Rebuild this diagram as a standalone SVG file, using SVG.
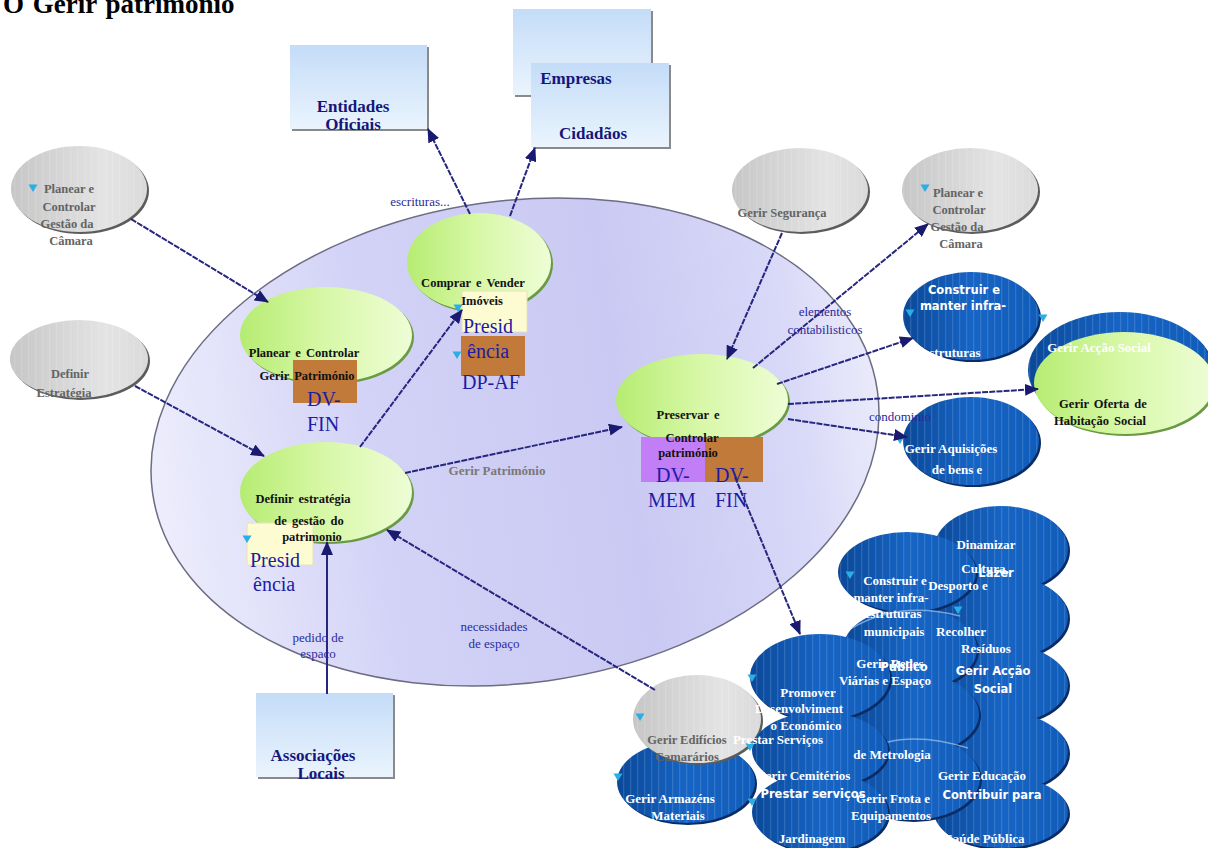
<svg xmlns="http://www.w3.org/2000/svg" xmlns:xlink="http://www.w3.org/1999/xlink" width="1208" height="848" viewBox="0 0 1208 848">
<style>
  .ser { font-family: "Liberation Serif", "Times New Roman", serif; }
  .t-gray { font: bold 12.5px "Liberation Serif", serif; fill: #646464; text-anchor: middle; }
  .t-green { font: bold 12.5px "Liberation Serif", serif; fill: #111; text-anchor: middle; word-spacing: 2px; }
  .t-blue { font: bold 13px "Liberation Serif", serif; fill: #fff; text-anchor: middle; }
  .t-bsans { font: bold 11.5px "DejaVu Sans", "Liberation Sans", sans-serif; fill: #fff; text-anchor: middle; }
  .t-ent { font: bold 17px "Liberation Serif", serif; fill: #16167a; text-anchor: middle; }
  .t-role { font: 20px "Liberation Serif", serif; fill: #1c1ca6; }
  .t-lbl { font: 13px "Liberation Serif", serif; fill: #2a2a9c; text-anchor: middle; }
  .sh-gray { fill: #5c5c5c; }
  .sh-green { fill: #6a9a44; }
  .sh-blue { fill: #0a2c66; }
  .f-gray { fill: url(#gGray); }
  .f-green { fill: url(#gGreen); }
  .f-blue { fill: url(#gBlue); }
  .stripe { fill: url(#stripes); }
  .ent { fill: url(#gEnt); }
  .ent-sh { fill: #8a8a8a; }
  .brown { fill: #c27a3a; }
  .cream { fill: #fdfbd2; stroke: #e6e2b8; stroke-width: 1; }
  .purple { fill: #c17ef6; }
  .cn { fill: none; stroke: #26267e; stroke-width: 2; stroke-dasharray: 6 1.2; marker-end: url(#arr); }
  .cn-solid { fill: none; stroke: #26267e; stroke-width: 2; marker-end: url(#arr); }
</style>
<defs>
  <linearGradient id="lav" gradientUnits="userSpaceOnUse" x1="150" y1="0" x2="880" y2="0">
    <stop offset="0" stop-color="#ededfc"/>
    <stop offset="0.3" stop-color="#d3d3f7"/>
    <stop offset="0.65" stop-color="#c9c9f3"/>
    <stop offset="0.88" stop-color="#d8d8f8"/>
    <stop offset="1" stop-color="#eaeafb"/>
  </linearGradient>
  <linearGradient id="gGray" x1="0" y1="0" x2="1" y2="0">
    <stop offset="0" stop-color="#c6c6c6"/>
    <stop offset="0.7" stop-color="#e4e4e4"/>
    <stop offset="1" stop-color="#dadada"/>
  </linearGradient>
  <linearGradient id="gGreen" x1="0" y1="0" x2="1" y2="0">
    <stop offset="0" stop-color="#b6ec72"/>
    <stop offset="0.5" stop-color="#d8f8a8"/>
    <stop offset="1" stop-color="#eefdd6"/>
  </linearGradient>
  <linearGradient id="gBlue" x1="0" y1="0" x2="1" y2="0">
    <stop offset="0" stop-color="#0a4898"/>
    <stop offset="0.5" stop-color="#1664c4"/>
    <stop offset="1" stop-color="#105cba"/>
  </linearGradient>
  <linearGradient id="gEnt" x1="0" y1="0" x2="0" y2="1">
    <stop offset="0" stop-color="#c4dcf8"/>
    <stop offset="1" stop-color="#eaf4fd"/>
  </linearGradient>
  <pattern id="stripes" width="7" height="7" patternUnits="userSpaceOnUse">
    <rect x="0" y="0" width="1.3" height="7" fill="#ffffff" opacity="0.13"/>
  </pattern>
  <marker id="arr" viewBox="0 0 14 12" refX="13" refY="6" markerWidth="14" markerHeight="12" markerUnits="userSpaceOnUse" orient="auto">
    <path d="M0,0 L14,6 L0,12 Z" fill="#1a1a70"/>
  </marker>
  <path id="tri" d="M-4.5,-3.5 L4.5,-3.5 L0,4 Z" fill="#2aaee6"/>
  <clipPath id="clipAq"><ellipse cx="971" cy="441" rx="68" ry="44"/></clipPath>
</defs>

<rect width="1208" height="848" fill="#ffffff"/>

<!-- title -->
<text x="3" y="13" class="ser" font-size="27" font-weight="bold" word-spacing="2" fill="#000">O Gerir património</text>

<!-- process boundary -->
<g id="boundary">
  <ellipse cx="515" cy="442" rx="366" ry="241" transform="rotate(-8 515 442)" fill="url(#lav)" stroke="#6c6c84" stroke-width="1.5"/>
</g>

<!-- external entities -->
<g id="ent-oficiais">
  <rect x="292" y="47" width="137" height="84" class="ent-sh"/>
  <rect x="290" y="45" width="137" height="84" class="ent"/>
  <text class="t-ent" x="353" y="112">Entidades</text>
  <text class="t-ent" x="353" y="130">Oficiais</text>
</g>
<g id="ent-empresas-cidadaos">
  <rect x="515" y="11" width="138" height="86" class="ent-sh"/>
  <rect x="513" y="9" width="138" height="86" class="ent"/>
  <rect x="533" y="65" width="138" height="84" class="ent-sh"/>
  <rect x="531" y="63" width="138" height="84" class="ent"/>
  <text class="t-ent" x="576" y="84">Empresas</text>
  <text class="t-ent" x="593" y="139">Cidadãos</text>
</g>
<g id="ent-associacoes">
  <rect x="258" y="695" width="137" height="84" class="ent-sh"/>
  <rect x="256" y="693" width="137" height="84" class="ent"/>
  <text class="t-ent" x="313" y="761">Associações</text>
  <text class="t-ent" x="321" y="779">Locais</text>
</g>

<!-- external processes -->
<g id="p-planear-camara-1">
  <ellipse cx="81" cy="191" rx="68" ry="43" class="sh-gray"/>
  <ellipse cx="79" cy="189" rx="68" ry="43" class="f-gray"/>
  <ellipse cx="79" cy="189" rx="68" ry="43" class="stripe"/>
  <use xlink:href="#tri" x="33" y="188"/>
  <text class="t-gray" x="69" y="193">Planear e</text>
  <text class="t-gray" x="69" y="211">Controlar</text>
  <text class="t-gray" x="67" y="228">Gestão da</text>
  <text class="t-gray" x="71" y="245">Câmara</text>
</g>
<g id="p-definir-estrategia">
  <ellipse cx="81" cy="361" rx="69" ry="39" class="sh-gray"/>
  <ellipse cx="79" cy="359" rx="69" ry="39" class="f-gray"/>
  <ellipse cx="79" cy="359" rx="69" ry="39" class="stripe"/>
  <text class="t-gray" x="70" y="378">Definir</text>
  <text class="t-gray" x="64" y="397">Estratégia</text>
</g>
<g id="p-seguranca">
  <ellipse cx="802" cy="192" rx="68" ry="42" class="sh-gray"/>
  <ellipse cx="800" cy="190" rx="68" ry="42" class="f-gray"/>
  <ellipse cx="800" cy="190" rx="68" ry="42" class="stripe"/>
  <text class="t-gray" x="782" y="217">Gerir Segurança</text>
</g>
<g id="p-planear-camara-2">
  <ellipse cx="972" cy="192" rx="68" ry="42" class="sh-gray"/>
  <ellipse cx="970" cy="190" rx="68" ry="42" class="f-gray"/>
  <ellipse cx="970" cy="190" rx="68" ry="42" class="stripe"/>
  <use xlink:href="#tri" x="925" y="188"/>
  <text class="t-gray" x="958" y="197">Planear e</text>
  <text class="t-gray" x="959" y="214">Controlar</text>
  <text class="t-gray" x="957" y="231">Gestão da</text>
  <text class="t-gray" x="961" y="248">Câmara</text>
</g>

<!-- internal processes -->
<g id="p-comprar-vender">
  <ellipse cx="481" cy="264" rx="72" ry="49" class="sh-green"/>
  <ellipse cx="479" cy="262" rx="72" ry="49" class="f-green"/>
  <rect x="462" y="291" width="65" height="41" class="cream"/>
  <rect x="461" y="336" width="64" height="40" class="brown"/>
  <use xlink:href="#tri" x="458" y="308"/>
  <use xlink:href="#tri" x="457" y="355"/>
  <text class="t-green" x="473" y="287">Comprar e Vender</text>
  <text class="t-green" x="482" y="305">Imóveis</text>
  <text class="t-role" x="463" y="333">Presid</text>
  <text class="t-role" x="467" y="358">ência</text>
  <text class="t-role" x="462" y="389">DP-AF</text>
</g>
<g id="p-planear-patrimonio">
  <ellipse cx="328" cy="337" rx="86" ry="48" class="sh-green"/>
  <ellipse cx="326" cy="335" rx="86" ry="48" class="f-green"/>
  <rect x="293" y="360" width="64" height="43" class="brown"/>
  <text class="t-green" x="304" y="357">Planear e Controlar</text>
  <text class="t-green" x="307" y="380">Gerir Património</text>
  <text class="t-role" x="307" y="406">DV-</text>
  <text class="t-role" x="307" y="431">FIN</text>
</g>
<g id="p-definir-gestao">
  <ellipse cx="328" cy="494" rx="86" ry="50" class="sh-green"/>
  <ellipse cx="326" cy="492" rx="86" ry="50" class="f-green"/>
  <rect x="247" y="523" width="66" height="42" class="cream"/>
  <use xlink:href="#tri" x="247" y="539"/>
  <text class="t-green" x="303" y="503">Definir estratégia</text>
  <text class="t-green" x="309" y="525">de gestão do</text>
  <text class="t-green" x="312" y="541">patrimonio</text>
  <text class="t-role" x="250" y="567">Presid</text>
  <text class="t-role" x="253" y="591">ência</text>
</g>
<g id="p-preservar">
  <ellipse cx="704" cy="402" rx="86" ry="46" class="sh-green"/>
  <ellipse cx="702" cy="400" rx="86" ry="46" class="f-green"/>
  <rect x="641" y="437" width="64" height="45" class="purple"/>
  <rect x="705" y="437" width="58" height="45" class="brown"/>
  <text class="t-green" x="688" y="419">Preservar e</text>
  <text class="t-green" x="692" y="442">Controlar</text>
  <text class="t-green" x="688" y="457">património</text>
  <text class="t-role" x="656" y="482">DV-</text>
  <text class="t-role" x="648" y="507">MEM</text>
  <text class="t-role" x="715" y="482">DV-</text>
  <text class="t-role" x="715" y="507">FIN</text>
</g>

<!-- related processes, upper right -->
<g id="p-construir-infra">
  <ellipse cx="973" cy="318" rx="68" ry="44" class="sh-blue"/>
  <ellipse cx="971" cy="316" rx="68" ry="44" class="f-blue"/>
  <ellipse cx="971" cy="316" rx="68" ry="44" class="stripe"/>
  <use xlink:href="#tri" x="910" y="313"/>
  <text class="t-bsans" x="964" y="294">Construir e</text>
  <text class="t-bsans" x="963" y="310">manter infra-</text>
  <text class="t-blue" x="952" y="357">estruturas</text>
</g>
<g id="p-habitacao-social">
  <ellipse cx="1122" cy="372" rx="92" ry="58" class="sh-blue"/>
  <ellipse cx="1120" cy="370" rx="92" ry="58" class="f-blue"/>
  <ellipse cx="1120" cy="370" rx="92" ry="58" class="stripe"/>
  <use xlink:href="#tri" x="1043" y="318"/>
  <ellipse cx="1126" cy="385" rx="90" ry="51" class="sh-green"/>
  <ellipse cx="1124" cy="383" rx="90" ry="51" class="f-green"/>
  <text class="t-blue" x="1099" y="352">Gerir Acção Social</text>
  <text class="t-green" x="1103" y="408">Gerir Oferta de</text>
  <text class="t-green" x="1100" y="425">Habitação Social</text>
</g>
<g id="p-aquisicoes">
  <ellipse cx="973" cy="443" rx="68" ry="44" class="sh-blue"/>
  <ellipse cx="971" cy="441" rx="68" ry="44" class="f-blue"/>
  <ellipse cx="971" cy="441" rx="68" ry="44" class="stripe"/>
  <use xlink:href="#tri" x="900" y="440"/>
  <g clip-path="url(#clipAq)">
    <text class="t-blue" x="951" y="453">Gerir Aquisições</text>
    <text class="t-blue" x="957" y="474">de bens e</text>
    <text class="t-blue" x="957" y="495">serviços</text>
  </g>
</g>

<!-- related processes, lower right cluster -->
<g id="p-cultura">
  <ellipse cx="1003" cy="551" rx="67" ry="43" class="sh-blue"/>
  <ellipse cx="1001" cy="549" rx="67" ry="43" class="f-blue"/>
  <ellipse cx="1001" cy="549" rx="67" ry="43" class="stripe"/>
</g>
<g id="p-residuos">
  <ellipse cx="1003" cy="619" rx="67" ry="42" class="sh-blue"/>
  <ellipse cx="1001" cy="617" rx="67" ry="42" class="f-blue"/>
  <ellipse cx="1001" cy="617" rx="67" ry="42" class="stripe"/>
</g>
<g id="p-accao-social">
  <ellipse cx="1003" cy="686" rx="67" ry="40" class="sh-blue"/>
  <ellipse cx="1001" cy="684" rx="67" ry="40" class="f-blue"/>
  <ellipse cx="1001" cy="684" rx="67" ry="40" class="stripe"/>
</g>
<g id="p-educacao">
  <ellipse cx="1003" cy="754" rx="67" ry="40" class="sh-blue"/>
  <ellipse cx="1001" cy="752" rx="67" ry="40" class="f-blue"/>
  <ellipse cx="1001" cy="752" rx="67" ry="40" class="stripe"/>
</g>
<g id="p-saude">
  <ellipse cx="1003" cy="814" rx="67" ry="36" class="sh-blue"/>
  <ellipse cx="1001" cy="812" rx="67" ry="36" class="f-blue"/>
  <ellipse cx="1001" cy="812" rx="67" ry="36" class="stripe"/>
</g>
<g id="p-infra-municipais">
  <ellipse cx="909" cy="574" rx="69" ry="40" class="sh-blue"/>
  <ellipse cx="907" cy="572" rx="69" ry="40" class="f-blue"/>
  <ellipse cx="907" cy="572" rx="69" ry="40" class="stripe"/>
</g>
<g id="p-redes-viarias">
  <ellipse cx="912" cy="651" rx="67" ry="41" class="sh-blue"/>
  <ellipse cx="910" cy="649" rx="67" ry="41" class="f-blue"/>
  <ellipse cx="910" cy="649" rx="67" ry="41" class="stripe"/>
  <path d="M852,628 Q900,600 960,616" fill="none" stroke="#9cc4f0" stroke-width="1.5" opacity="0.7"/>
</g>
<g id="p-metrologia">
  <ellipse cx="917" cy="716" rx="64" ry="40" class="sh-blue"/>
  <ellipse cx="915" cy="714" rx="64" ry="40" class="f-blue"/>
  <ellipse cx="915" cy="714" rx="64" ry="40" class="stripe"/>
</g>
<g id="p-frota">
  <ellipse cx="914" cy="780" rx="68" ry="42" class="sh-blue"/>
  <ellipse cx="912" cy="778" rx="68" ry="42" class="f-blue"/>
  <ellipse cx="912" cy="778" rx="68" ry="42" class="stripe"/>
  <path d="M862,752 Q905,728 968,748" fill="none" stroke="#9cc4f0" stroke-width="1.5" opacity="0.7"/>
</g>
<g id="p-armazens">
  <ellipse cx="688" cy="784" rx="69" ry="41" class="sh-blue"/>
  <ellipse cx="686" cy="782" rx="69" ry="41" class="f-blue"/>
  <ellipse cx="686" cy="782" rx="69" ry="41" class="stripe"/>
  <use xlink:href="#tri" x="618" y="777"/>
</g>
<g id="p-edificios">
  <ellipse cx="699" cy="721" rx="64" ry="44" class="sh-gray"/>
  <ellipse cx="697" cy="719" rx="64" ry="44" class="f-gray"/>
  <ellipse cx="697" cy="719" rx="64" ry="44" class="stripe"/>
  <use xlink:href="#tri" x="640" y="717"/>
  <text class="t-gray" x="687" y="744">Gerir Edifícios</text>
  <text class="t-gray" x="687" y="761">Camarários</text>
</g>
<g id="p-promover">
  <ellipse cx="822" cy="679" rx="70" ry="43" class="sh-blue"/>
  <ellipse cx="820" cy="677" rx="70" ry="43" class="f-blue"/>
  <ellipse cx="820" cy="677" rx="70" ry="43" class="stripe"/>
  <use xlink:href="#tri" x="752" y="678"/>
</g>
<g id="p-servicos-metrologia">
  <ellipse cx="822" cy="752" rx="68" ry="38" class="sh-blue"/>
  <ellipse cx="820" cy="750" rx="68" ry="38" class="f-blue"/>
  <ellipse cx="820" cy="750" rx="68" ry="38" class="stripe"/>
  <use xlink:href="#tri" x="750" y="747"/>
</g>
<g id="p-cemiterios">
  <ellipse cx="822" cy="814" rx="68" ry="40" class="sh-blue"/>
  <ellipse cx="820" cy="812" rx="68" ry="40" class="f-blue"/>
  <ellipse cx="820" cy="812" rx="68" ry="40" class="stripe"/>
  <use xlink:href="#tri" x="752" y="802"/>
</g>

<!-- cluster labels, drawn above all cluster shapes -->
<g id="cluster-labels">
  <use xlink:href="#tri" x="850" y="575"/>
  <use xlink:href="#tri" x="958" y="610"/>
  <text class="t-blue" x="986" y="549">Dinamizar</text>
  <text class="t-blue" x="985" y="573">Cultura,</text>
  <text class="t-bsans" x="996" y="577">Lazer</text>
  <text class="t-blue" x="958" y="590">Desporto e</text>
  <text class="t-blue" x="895" y="585">Construir e</text>
  <text class="t-blue" x="891" y="602">manter infra-</text>
  <text class="t-blue" x="893" y="618">estruturas</text>
  <text class="t-blue" x="894" y="636">municipais</text>
  <text class="t-blue" x="961" y="636">Recolher</text>
  <text class="t-blue" x="986" y="653">Resíduos</text>
  <text class="t-bsans" x="993" y="675">Gerir Acção</text>
  <text class="t-bsans" x="993" y="693">Social</text>
  <text class="t-blue" x="890" y="668">Gerir Redes</text>
  <text class="t-bsans" x="904" y="671">Público</text>
  <text class="t-blue" x="885" y="685">Viárias e Espaço</text>
  <text class="t-blue" x="808" y="697">Promover</text>
  <text class="t-blue" x="799" y="713">Desenvolviment</text>
  <text class="t-blue" x="806" y="730">o Económico</text>
  <text class="t-blue" x="778" y="744">Prestar Serviços</text>
  <text class="t-blue" x="892" y="759">de Metrologia</text>
  <text class="t-blue" x="803" y="780">Gerir Cemitérios</text>
  <text class="t-bsans" x="813" y="798">Prestar serviços</text>
  <text class="t-blue" x="812" y="843">Jardinagem</text>
  <text class="t-blue" x="893" y="803">Gerir Frota e</text>
  <text class="t-blue" x="891" y="820">Equipamentos</text>
  <text class="t-blue" x="982" y="780">Gerir Educação</text>
  <text class="t-bsans" x="992" y="799">Contribuir para</text>
  <text class="t-blue" x="985" y="843">Saúde Pública</text>
  <text class="t-blue" x="670" y="803">Gerir Armazéns</text>
  <text class="t-blue" x="678" y="820">Materiais</text>
</g>

<!-- connectors -->
<g id="connectors">
  <path class="cn" d="M131,219 L268,302"/>
  <path class="cn" d="M135,386 L264,456"/>
  <path class="cn" d="M360,447 L462,310"/>
  <path class="cn" d="M405,473 L622,427"/>
  <path class="cn" d="M470,214 L428,129"/>
  <path class="cn" d="M510,216 L535,148"/>
  <path class="cn-solid" d="M327,694 L327,542"/>
  <path class="cn" d="M655,690 L387,530"/>
  <path class="cn" d="M782,233 L727,359"/>
  <path class="cn" d="M753,368 L928,224"/>
  <path class="cn" d="M777,384 L913,338"/>
  <path class="cn" d="M788,404 L1038,389"/>
  <path class="cn" d="M788,419 L907,437"/>
  <path class="cn" d="M735,477 L800,634"/>
</g>

<!-- connector labels -->
<g id="connector-labels">
  <text class="t-lbl" x="420" y="206">escrituras...</text>
  <text class="t-lbl" x="825" y="316">elementos</text>
  <text class="t-lbl" x="825" y="334">contabilisticos</text>
  <text class="t-lbl" x="900" y="421">condominio</text>
  <text x="497" y="475" font-family="Liberation Serif, serif" font-size="13" font-weight="bold" fill="#787878" text-anchor="middle">Gerir Património</text>
  <text class="t-lbl" x="318" y="642">pedido de</text>
  <text class="t-lbl" x="318" y="658">espaço</text>
  <text class="t-lbl" x="494" y="631">necessidades</text>
  <text class="t-lbl" x="494" y="648">de espaço</text>
</g>
</svg>
